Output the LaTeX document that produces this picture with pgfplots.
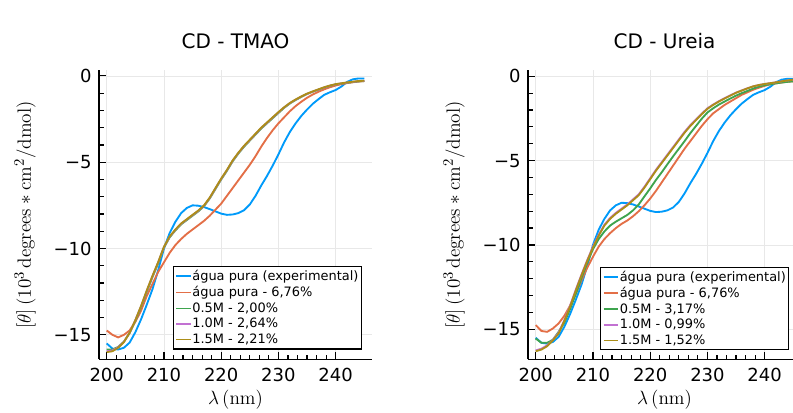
\documentclass[border=0pt]{standalone}
\usepackage[no-math]{fontspec}
\newfontfamily\djv{DejaVu Sans}
\usepackage{pgfplots}
\usepackage{pgfplotstable}
\pgfplotsset{compat=1.18}

\definecolor{c1}{HTML}{009AFA}
\definecolor{c2}{HTML}{E36F47}
\definecolor{c3}{HTML}{3EA44E}
\definecolor{c4}{HTML}{C271D2}
\definecolor{c5}{HTML}{AC8E18}

% lambda (nm), theta (10^3 deg cm^2/dmol)
\pgfplotstableread{
lam blue orange g p y
200 -15.50 -14.75 -15.85 -15.95 -16.00
201 -15.80 -15.00 -15.85 -15.90 -15.95
202 -15.85 -15.15 -15.70 -15.72 -15.75
203 -15.75 -15.00 -15.40 -15.40 -15.42
204 -15.45 -14.75 -14.90 -14.88 -14.88
205 -14.85 -14.25 -14.20 -14.15 -14.15
206 -14.10 -13.60 -13.40 -13.35 -13.33
207 -13.25 -12.75 -12.50 -12.45 -12.43
208 -12.35 -12.05 -11.65 -11.60 -11.58
209 -11.25 -11.35 -10.85 -10.80 -10.78
210 -10.00 -10.80 -9.95 -9.92 -9.90
211 -9.10 -10.25 -9.35 -9.32 -9.30
212 -8.45 -9.80 -8.95 -8.92 -8.90
213 -7.95 -9.45 -8.60 -8.57 -8.55
214 -7.65 -9.15 -8.35 -8.32 -8.30
215 -7.50 -8.90 -8.10 -8.07 -8.05
216 -7.52 -8.65 -7.85 -7.82 -7.80
217 -7.60 -8.40 -7.55 -7.52 -7.50
218 -7.72 -8.10 -7.10 -7.07 -7.05
219 -7.85 -7.75 -6.55 -6.52 -6.50
220 -7.98 -7.40 -6.00 -5.97 -5.95
221 -8.05 -6.95 -5.50 -5.47 -5.45
222 -8.03 -6.50 -4.95 -4.92 -4.90
223 -7.95 -6.05 -4.50 -4.47 -4.45
224 -7.78 -5.60 -4.10 -4.07 -4.05
225 -7.45 -5.15 -3.75 -3.72 -3.70
226 -6.95 -4.65 -3.40 -3.37 -3.35
227 -6.35 -4.10 -3.05 -3.02 -3.00
228 -5.80 -3.60 -2.75 -2.72 -2.70
229 -5.20 -3.15 -2.45 -2.42 -2.40
230 -4.55 -2.75 -2.15 -2.12 -2.10
231 -3.85 -2.40 -1.85 -1.83 -1.82
232 -3.25 -2.05 -1.60 -1.58 -1.57
233 -2.75 -1.75 -1.40 -1.38 -1.37
234 -2.32 -1.50 -1.22 -1.20 -1.19
235 -1.95 -1.27 -1.05 -1.04 -1.03
236 -1.62 -1.08 -0.92 -0.91 -0.90
237 -1.35 -0.92 -0.80 -0.79 -0.78
238 -1.10 -0.78 -0.68 -0.67 -0.66
239 -0.95 -0.66 -0.58 -0.57 -0.56
240 -0.82 -0.56 -0.50 -0.49 -0.48
241 -0.62 -0.48 -0.45 -0.44 -0.43
242 -0.35 -0.42 -0.40 -0.39 -0.38
243 -0.20 -0.37 -0.36 -0.35 -0.34
244 -0.15 -0.33 -0.32 -0.31 -0.30
245 -0.15 -0.30 -0.30 -0.29 -0.28
}\tmao

\pgfplotstableread{
lam blue orange g p y
200 -15.50 -14.75 -15.55 -16.25 -16.30
201 -15.80 -15.10 -15.80 -16.15 -16.20
202 -15.85 -15.15 -15.80 -15.95 -16.00
203 -15.75 -14.95 -15.62 -15.62 -15.65
204 -15.45 -14.65 -15.15 -15.20 -15.25
205 -14.85 -14.20 -14.60 -14.45 -14.50
206 -14.10 -13.60 -13.80 -13.60 -13.65
207 -13.25 -12.90 -12.90 -12.65 -12.70
208 -12.35 -12.10 -11.95 -11.75 -11.80
209 -11.25 -11.35 -11.05 -10.90 -10.95
210 -10.00 -10.70 -10.25 -10.10 -10.15
211 -9.10 -10.10 -9.65 -9.40 -9.45
212 -8.45 -9.65 -9.20 -8.80 -8.85
213 -7.95 -9.30 -8.85 -8.40 -8.45
214 -7.65 -9.00 -8.62 -8.10 -8.15
215 -7.50 -8.75 -8.42 -7.85 -7.90
216 -7.52 -8.55 -8.22 -7.60 -7.65
217 -7.60 -8.30 -7.95 -7.30 -7.35
218 -7.72 -8.00 -7.60 -7.00 -7.05
219 -7.85 -7.65 -7.12 -6.55 -6.60
220 -7.98 -7.25 -6.65 -6.05 -6.10
221 -8.05 -6.80 -6.15 -5.55 -5.60
222 -8.03 -6.30 -5.70 -5.10 -5.15
223 -7.95 -5.80 -5.22 -4.65 -4.70
224 -7.78 -5.30 -4.75 -4.20 -4.25
225 -7.45 -4.80 -4.30 -3.75 -3.80
226 -6.95 -4.30 -3.85 -3.30 -3.35
227 -6.35 -3.85 -3.38 -2.90 -2.95
228 -5.80 -3.40 -2.95 -2.56 -2.60
229 -5.20 -2.95 -2.52 -2.22 -2.25
230 -4.55 -2.55 -2.15 -1.90 -1.93
231 -3.85 -2.20 -1.90 -1.68 -1.70
232 -3.25 -1.95 -1.68 -1.48 -1.50
233 -2.75 -1.70 -1.50 -1.30 -1.32
234 -2.32 -1.50 -1.32 -1.13 -1.15
235 -1.95 -1.30 -1.15 -0.97 -0.98
236 -1.62 -1.10 -1.00 -0.84 -0.85
237 -1.35 -0.95 -0.87 -0.71 -0.72
238 -1.10 -0.80 -0.73 -0.60 -0.60
239 -0.95 -0.68 -0.62 -0.52 -0.52
240 -0.82 -0.57 -0.53 -0.46 -0.46
241 -0.62 -0.48 -0.47 -0.41 -0.41
242 -0.35 -0.42 -0.42 -0.36 -0.36
243 -0.20 -0.37 -0.37 -0.30 -0.30
244 -0.15 -0.33 -0.33 -0.25 -0.25
245 -0.15 -0.30 -0.30 -0.21 -0.20
}\ureia

\pgfplotsset{
  cd/.style={
    scale only axis,
    width=204.75pt, height=216.75pt,
    xmin=198.65, xmax=246.35,
    axis x line*=bottom, axis y line*=left,
    axis line style={line width=1.1pt},
    xtick={200,210,220,230,240},
    xticklabels={200,210,220,230,240},
    ytick={-15,-10,-5,0},
    yticklabels={−15,−10,−5,0},
    minor x tick num=5, minor y tick num=4,
    tick align=inside,
    major tick length=5.5pt, minor tick length=3.5pt,
    tick style={black, line width=0.9pt},
    grid=major,
    grid style={black!9, line width=0.5pt},
    tick label style={font=\djv\fontsize{13.5}{15}\selectfont},
    xticklabel style={anchor=base, yshift=-16.5pt},
    yticklabel style={xshift=-2pt},
    xlabel={$\lambda\,(\mathrm{nm})$},
    xlabel style={font=\fontsize{15}{18}\selectfont,
      at={(axis description cs:0.5,0)}, anchor=base, yshift=-34pt},
    ylabel={$[\theta]\,(10^{3}\,\mathrm{degrees} * \mathrm{cm}^{2}/\mathrm{dmol})$},
    ylabel style={font=\fontsize{15.5}{18}\selectfont,
      at={(axis description cs:-0.25,0.5)}, anchor=base},
    title style={font=\djv\fontsize{15}{18}\selectfont, at={(0.5,1)}, anchor=base, yshift=10.5pt},
    legend cell align=left,
    legend style={
      font=\djv\fontsize{9.7}{10}\selectfont,
      draw=black, line width=1pt,
      inner xsep=1.5pt, inner ysep=2pt,
      row sep=1.8pt,
      nodes={inner sep=0.6pt},
    },
    legend image code/.code={\draw[#1, line width=1.2pt] (0pt,0pt) -- (11pt,0pt);},
    every axis plot/.append style={line width=1.4pt, no markers, line join=round},
  }
}

\begin{document}
\begin{tikzpicture}
\begin{axis}[cd,
  at={(74.25pt,39.5pt)}, anchor=south west,
  ymin=-16.42, ymax=0.32,
  title={CD - TMAO},
  legend style={at={(0.963,0.034)}, anchor=south east},
]
\addplot[c1] table[x=lam, y=blue] {\tmao};
\addlegendentry{água pura (experimental)}
\addplot[c2] table[x=lam, y=orange] {\tmao};
\addlegendentry{água pura - 6,76\%}
\addplot[c3] table[x=lam, y=g] {\tmao};
\addlegendentry{0.5M - 2,00\%}
\addplot[c4] table[x=lam, y=p] {\tmao};
\addlegendentry{1.0M - 2,64\%}
\addplot[c5] table[x=lam, y=y] {\tmao};
\addlegendentry{1.5M - 2,21\%}
\end{axis}

\begin{axis}[cd,
  at={(396pt,39.5pt)}, anchor=south west,
  ymin=-16.78, ymax=0.35,
  title={CD - Ureia},
  legend style={at={(0.957,0.031)}, anchor=south east},
]
\addplot[c1] table[x=lam, y=blue] {\ureia};
\addlegendentry{água pura (experimental)}
\addplot[c2] table[x=lam, y=orange] {\ureia};
\addlegendentry{água pura - 6,76\%}
\addplot[c3] table[x=lam, y=g] {\ureia};
\addlegendentry{0.5M - 3,17\%}
\addplot[c4] table[x=lam, y=p] {\ureia};
\addlegendentry{1.0M - 0,99\%}
\addplot[c5] table[x=lam, y=y] {\ureia};
\addlegendentry{1.5M - 1,52\%}
\end{axis}

\pgfresetboundingbox
\useasboundingbox (0,0) rectangle (594.75pt,309pt);
\end{tikzpicture}
\end{document}
